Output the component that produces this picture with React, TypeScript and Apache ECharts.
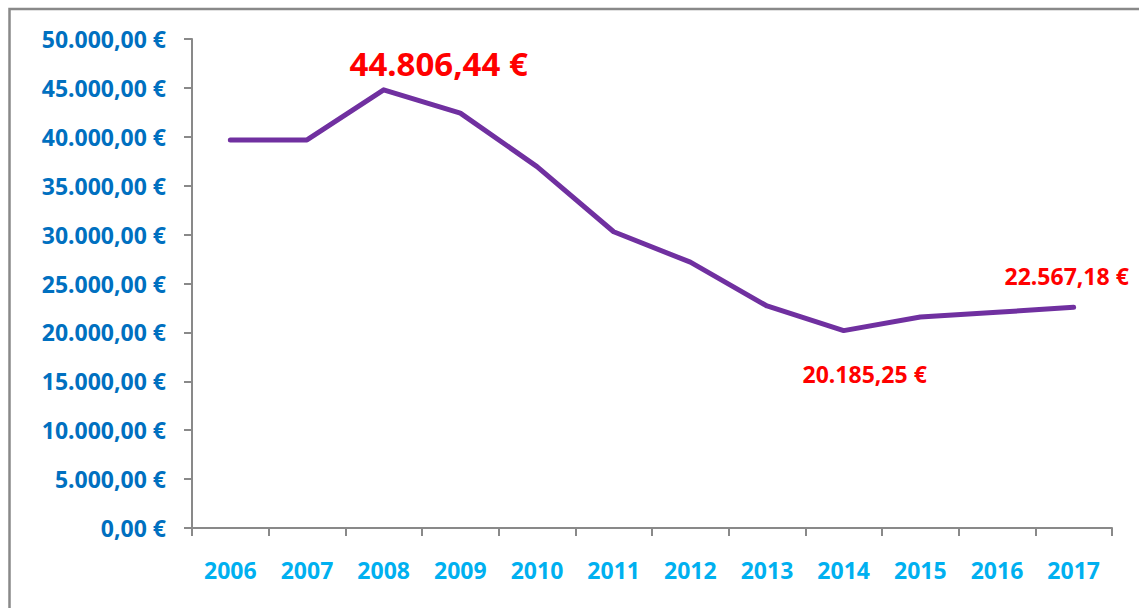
import React, { useEffect, useRef } from "react";
import * as echarts from "echarts";

const years: string[] = ["2006", "2007", "2008", "2009", "2010", "2011", "2012", "2013", "2014", "2015", "2016", "2017"];
const values: number[] = [39680, 39680, 44806.44, 42420, 36950, 30290, 27180, 22700, 20185.25, 21580, 22060, 22567.18];
const labelledYears: string[] = ["2008", "2014", "2017"];
const yTicks = { min: 0, max: 50000, interval: 5000 };

function fmtEuro(v: number): string {
  const fixed = Math.abs(v).toFixed(2);
  const [intPart, dec] = fixed.split(".");
  const withDots = intPart.replace(/\B(?=(\d{3})+(?!\d))/g, ".");
  return (v < 0 ? "-" : "") + withDots + "," + dec + " €";
}

const FONT = "Noto Sans";
const AXIS_GRAY = "#898989";

export default function App() {
  const ref = useRef<HTMLDivElement>(null);
  useEffect(() => {
    if (!ref.current) return;
    const chart = echarts.init(ref.current, null, { renderer: "svg" });
    const labelCfg: Record<string, any> = {
      "2008": { show: true, position: "top", distance: 5, offset: [55, -4], fontSize: 33 },
      "2014": { show: true, position: "bottom", distance: 5, offset: [21, 26], fontSize: 23 },
      "2017": { show: true, position: "top", distance: 5, offset: [-7, -14], fontSize: 23 },
    };
    const data = values.map((v, i) => {
      const y = years[i];
      if (labelledYears.includes(y)) {
        return {
          value: v,
          label: {
            ...labelCfg[y],
            color: "#FF0000",
            fontWeight: "bold",
            fontFamily: FONT,
            formatter: (p: any) => fmtEuro(p.value),
          },
        };
      }
      return { value: v };
    });
    chart.setOption({
      animation: false,
      backgroundColor: "#ffffff",
      grid: { left: 192, right: 27, top: 39, bottom: 80, containLabel: false, outerBoundsMode: "none" },
      xAxis: {
        type: "category",
        data: years,
        boundaryGap: true,
        axisLine: { show: true, lineStyle: { color: AXIS_GRAY, width: 2 } },
        axisTick: { show: true, length: 8, lineStyle: { color: AXIS_GRAY, width: 2 } },
        axisLabel: { color: "#00B0F0", fontSize: 23, fontWeight: "bold", fontFamily: FONT, margin: 30 },
        splitLine: { show: false },
      },
      yAxis: {
        type: "value",
        min: yTicks.min,
        max: yTicks.max,
        interval: yTicks.interval,
        axisLine: { show: true, lineStyle: { color: AXIS_GRAY, width: 2 } },
        axisTick: { show: true, length: 8, lineStyle: { color: AXIS_GRAY, width: 2 } },
        axisLabel: {
          color: "#0070C0",
          fontSize: 23,
          fontWeight: "bold",
          fontFamily: FONT,
          margin: 26,
          formatter: (v: number) => fmtEuro(v),
        },
        splitLine: { show: false },
      },
      graphic: [
        {
          type: "rect",
          shape: { x: 9.5, y: 9, width: 1200, height: 700 },
          style: { fill: "none", stroke: AXIS_GRAY, lineWidth: 2.5 },
          silent: true,
        },
      ],
      series: [
        {
          type: "line",
          data,
          symbol: "circle",
          symbolSize: 1,
          showSymbol: true,
          itemStyle: { color: "#7030A0" },
          lineStyle: { color: "#7030A0", width: 5, cap: "round", join: "round" },
          label: { show: false },
        },
      ],
    });
    return () => chart.dispose();
  }, []);
  return (
    <div
      ref={ref}
      style={{ position: "fixed", left: 0, top: 0, width: 1139, height: 608, background: "#fff" }}
    />
  );
}
